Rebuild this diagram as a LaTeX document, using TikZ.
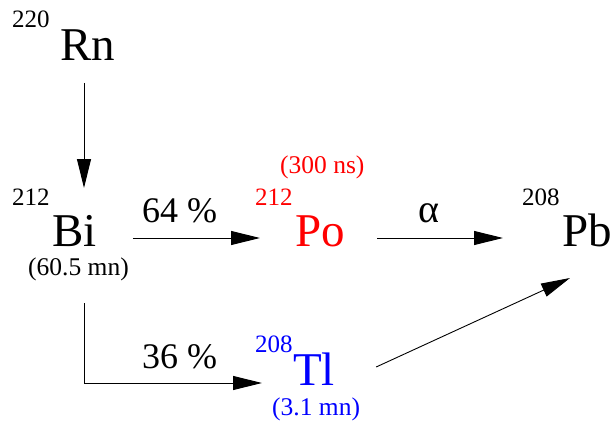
\documentclass[tikz,border=0pt]{standalone}
\usepackage{fontspec}
\setmainfont{Liberation Serif}
\usepackage{xcolor}
\usetikzlibrary{arrows.meta, positioning}

\begin{document}
\begin{tikzpicture}[
    x=1pt, y=-1pt,
    elem/.style={font=\fontsize{47}{50}\selectfont, inner sep=0pt, anchor=base west},
    mass/.style={font=\fontsize{25}{28}\selectfont, inner sep=0pt, anchor=base west},
    life/.style={font=\fontsize{25.5}{28}\selectfont, inner sep=0pt, anchor=base west},
    pct/.style={font=\fontsize{36}{40}\selectfont, inner sep=0pt, anchor=base west},
    arr/.style={-{Triangle[length=29pt, width=14pt]}, line width=0.9pt}
  ]
  \useasboundingbox (0,0) rectangle (613,425);

  % Rn
  \node[mass] (rnmass) at (12, 28) {220};
  \node[elem] (rn) at (60, 61) {Rn};

  % Bi
  \node[mass] (bimass) at (12, 205) {212};
  \node[elem] (bi) at (52, 246) {Bi};
  \node[life] (bilife) at (28, 275) {(60.5 mn)};

  % Po
  \node[mass, red] (pomass) at (255, 205) {212};
  \node[elem, red] (po) at (295, 246) {Po};
  \node[life, red] (polife) at (280, 173) {(300 ns)};

  % Pb
  \node[mass] (pbmass) at (522, 205) {208};
  \node[elem] (pb) at (562, 246) {Pb};

  % Tl
  \node[mass, blue] (tlmass) at (255, 352) {208};
  \node[elem, blue] (tl) at (293, 385) {Tl};
  \node[life, blue] (tllife) at (272, 415) {(3.1 mn)};

  % branch labels
  \node[pct] (br64) at (142, 222) {64 \%};
  \node[pct] (br36) at (142, 368) {36 \%};
  \node[pct, font=\fontsize{40}{44}\selectfont] (alpha) at (418, 222) {α};

  % Arrows
  \draw[arr] ([xshift=24pt, yshift=-22pt]rn.base west) -- ([xshift=32pt, yshift=58pt]bi.base west);
  \draw[arr, shorten <=36pt, shorten >=35pt] ([yshift=8pt]bi.base east) -- ([yshift=8pt]po.base west);
  \draw[arr, shorten <=32pt, shorten >=59pt] ([yshift=8pt]po.base east) -- ([yshift=8pt]pb.base west);
  \draw[arr] ([xshift=32pt, yshift=-57pt]bi.base west) |- ([xshift=-31pt, yshift=2pt]tl.base west);
  \draw[arr] ([xshift=41pt, yshift=18pt]tl.base east) -- ([xshift=8pt, yshift=-32pt]pb.base west);
\end{tikzpicture}
\end{document}
